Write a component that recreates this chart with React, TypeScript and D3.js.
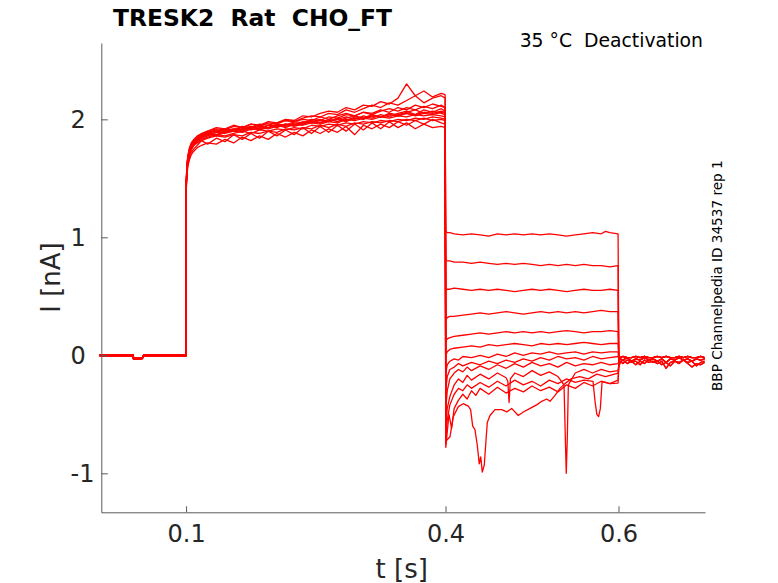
import React, { useEffect, useRef } from 'react';
import * as d3 from 'd3';

type Pt = [number, number];

// 0 ~ 0.1 s 유지 구간 (두 가지 변형)
const baseT = [0, 0.039, 0.0392, 0.044, 0.0495, 0.0505, 0.0515, 0.0999];
const baseA = [0.004, 0.004, -0.022, -0.026, -0.02, -0.004, 0.004, 0.004];
const baseB = [-0.005, -0.005, -0.03, -0.033, -0.027, -0.011, -0.005, -0.005];

// 0.1 ~ 0.4 s 활성화 구간
const actT = [
  0.1, 0.1002, 0.101, 0.102, 0.104, 0.106, 0.109, 0.113, 0.118, 0.125,
  0.135, 0.145, 0.155, 0.165, 0.175, 0.185, 0.195, 0.205, 0.215, 0.225,
  0.235, 0.245, 0.255, 0.265, 0.275, 0.285, 0.295, 0.305, 0.315, 0.325,
  0.335, 0.345, 0.355, 0.365, 0.375, 0.385, 0.395, 0.3995,
];
const act: number[][] = [
  [0, 1.47, 1.6, 1.68, 1.75, 1.79, 1.82, 1.85, 1.88, 1.9,
    1.92, 1.91, 1.94, 1.93, 1.96, 1.95, 1.98, 1.97, 2.0, 1.99,
    2.03, 2.02, 2.05, 2.07, 2.06, 2.1, 2.08, 2.12, 2.11, 2.15,
    2.13, 2.18, 2.3, 2.2, 2.24, 2.19, 2.22, 2.21],
  [0, 1.43, 1.57, 1.66, 1.74, 1.78, 1.81, 1.84, 1.86, 1.89,
    1.9, 1.92, 1.91, 1.94, 1.93, 1.96, 1.95, 1.97, 1.99, 1.98,
    2.01, 2.03, 2.02, 2.05, 2.04, 2.08, 2.06, 2.09, 2.12, 2.1,
    2.14, 2.12, 2.16, 2.2, 2.14, 2.18, 2.2, 2.18],
  [0, 1.46, 1.59, 1.67, 1.74, 1.78, 1.8, 1.83, 1.86, 1.88,
    1.87, 1.9, 1.92, 1.9, 1.93, 1.95, 1.93, 1.96, 1.95, 1.98,
    1.97, 2.0, 1.99, 2.02, 2.01, 2.04, 2.03, 2.06, 2.05, 2.08,
    2.06, 2.1, 2.08, 2.12, 2.1, 2.13, 2.11, 2.1],
  [0, 1.44, 1.57, 1.65, 1.72, 1.76, 1.79, 1.82, 1.84, 1.86,
    1.89, 1.88, 1.9, 1.92, 1.91, 1.93, 1.92, 1.94, 1.96, 1.94,
    1.96, 1.98, 1.97, 1.99, 2.0, 1.98, 2.01, 2.0, 2.03, 2.02,
    2.04, 2.03, 2.05, 2.04, 2.06, 2.05, 2.07, 2.06],
  [0, 1.45, 1.58, 1.66, 1.73, 1.77, 1.8, 1.82, 1.85, 1.87,
    1.86, 1.89, 1.9, 1.89, 1.92, 1.91, 1.93, 1.95, 1.93, 1.96,
    1.95, 1.97, 1.96, 1.98, 1.97, 2.0, 1.99, 2.01, 2.0, 2.02,
    2.01, 2.03, 2.02, 2.04, 2.03, 2.04, 2.03, 2.02],
  [0, 1.42, 1.55, 1.63, 1.7, 1.74, 1.78, 1.81, 1.83, 1.85,
    1.87, 1.86, 1.88, 1.9, 1.88, 1.91, 1.9, 1.92, 1.91, 1.93,
    1.92, 1.95, 1.94, 1.96, 1.95, 1.97, 1.96, 1.98, 1.97, 1.99,
    1.98, 2.0, 1.99, 2.01, 2.0, 2.02, 2.01, 2.0],
  [0, 1.4, 1.52, 1.6, 1.66, 1.7, 1.73, 1.76, 1.78, 1.8,
    1.79, 1.83, 1.8, 1.85, 1.82, 1.86, 1.83, 1.88, 1.85, 1.89,
    1.86, 1.91, 1.88, 1.92, 1.89, 1.94, 1.87, 1.95, 1.92, 1.96,
    1.93, 1.98, 1.95, 1.99, 1.96, 2.0, 1.97, 1.96],
  [0, 1.41, 1.53, 1.61, 1.68, 1.72, 1.75, 1.78, 1.82, 1.79,
    1.84, 1.81, 1.87, 1.83, 1.88, 1.84, 1.9, 1.86, 1.91, 1.87,
    1.93, 1.88, 1.94, 1.89, 1.95, 1.9, 1.96, 1.91, 1.97, 1.92,
    1.98, 1.93, 1.97, 1.92, 1.96, 1.93, 1.94, 1.93],
  [0, 1.48, 1.61, 1.69, 1.76, 1.8, 1.83, 1.86, 1.88, 1.9,
    1.93, 1.92, 1.95, 1.93, 1.96, 1.94, 1.97, 1.96, 1.99, 1.98,
    2.0, 1.99, 2.02, 2.0, 2.03, 2.05, 2.03, 2.06, 2.04, 2.07,
    2.09, 2.07, 2.1, 2.08, 2.11, 2.09, 2.12, 2.1],
  [0, 1.45, 1.59, 1.67, 1.74, 1.78, 1.81, 1.84, 1.86, 1.88,
    1.9, 1.89, 1.91, 1.93, 1.92, 1.94, 1.93, 1.95, 1.94, 1.97,
    1.96, 1.98, 2.0, 1.98, 2.01, 1.99, 2.02, 2.01, 2.03, 2.02,
    2.04, 2.03, 2.05, 2.03, 2.05, 2.04, 2.06, 2.05],
  [0, 1.43, 1.56, 1.64, 1.71, 1.75, 1.78, 1.8, 1.82, 1.84,
    1.86, 1.85, 1.87, 1.86, 1.89, 1.88, 1.9, 1.89, 1.92, 1.91,
    1.93, 1.92, 1.95, 1.93, 1.96, 1.94, 1.97, 1.96, 1.98, 1.97,
    1.99, 1.98, 2.0, 1.99, 2.01, 1.99, 2.0, 1.99],
  [0, 1.46, 1.6, 1.68, 1.75, 1.79, 1.82, 1.85, 1.87, 1.89,
    1.91, 1.9, 1.92, 1.91, 1.94, 1.92, 1.95, 1.94, 1.96, 1.95,
    1.98, 1.97, 1.99, 1.98, 2.0, 2.02, 2.0, 2.03, 2.01, 2.04,
    2.02, 2.05, 2.07, 2.04, 2.08, 2.06, 2.09, 2.07],
  [0, 1.44, 1.58, 1.66, 1.73, 1.77, 1.8, 1.83, 1.85, 1.87,
    1.89, 1.91, 1.9, 1.92, 1.94, 1.92, 1.95, 1.93, 1.96, 1.95,
    1.97, 1.99, 1.97, 2.0, 1.98, 2.01, 2.03, 2.01, 2.04, 2.02,
    2.05, 2.04, 2.06, 2.08, 2.05, 2.07, 2.05, 2.04],
];

// 0.4 ~ 0.6 s 꼬리 전류 (스윕마다 [t, I])
const tails: Pt[][] = [
  [[0.4003, 1.05], [0.402, 1.04], [0.405, 1.04], [0.41, 1.03], [0.42, 1.02], [0.43, 1.03], [0.44, 1.02], [0.45, 1.01],
    [0.46, 1.03], [0.47, 1.02], [0.48, 1.03], [0.49, 1.02], [0.5, 1.03], [0.51, 1.02], [0.52, 1.03], [0.53, 1.02],
    [0.54, 1.01], [0.55, 1.02], [0.56, 1.03], [0.57, 1.04], [0.58, 1.03], [0.585, 1.05], [0.59, 1.04], [0.5995, 1.03]],
  [[0.4003, 0.81], [0.402, 0.8], [0.405, 0.8], [0.41, 0.79], [0.42, 0.79], [0.43, 0.78], [0.44, 0.79], [0.45, 0.78],
    [0.46, 0.77], [0.47, 0.78], [0.48, 0.77], [0.49, 0.78], [0.5, 0.77], [0.51, 0.76], [0.52, 0.77], [0.53, 0.76],
    [0.54, 0.77], [0.55, 0.76], [0.56, 0.77], [0.57, 0.76], [0.58, 0.76], [0.59, 0.75], [0.5995, 0.76]],
  [[0.4003, 0.55], [0.402, 0.56], [0.405, 0.56], [0.41, 0.57], [0.42, 0.56], [0.43, 0.55], [0.44, 0.56], [0.45, 0.55],
    [0.46, 0.56], [0.47, 0.55], [0.48, 0.54], [0.49, 0.55], [0.5, 0.56], [0.51, 0.55], [0.52, 0.56], [0.53, 0.55],
    [0.54, 0.54], [0.55, 0.55], [0.56, 0.56], [0.57, 0.55], [0.58, 0.55], [0.59, 0.56], [0.5995, 0.55]],
  [[0.4003, 0.3], [0.402, 0.32], [0.405, 0.33], [0.41, 0.33], [0.42, 0.34], [0.43, 0.35], [0.44, 0.36], [0.45, 0.35],
    [0.46, 0.36], [0.47, 0.37], [0.48, 0.36], [0.49, 0.35], [0.5, 0.36], [0.51, 0.37], [0.52, 0.36], [0.53, 0.37],
    [0.54, 0.36], [0.55, 0.37], [0.56, 0.36], [0.57, 0.37], [0.58, 0.38], [0.59, 0.37], [0.5995, 0.37]],
  [[0.4003, 0.12], [0.402, 0.14], [0.405, 0.15], [0.41, 0.16], [0.42, 0.17], [0.43, 0.18], [0.44, 0.19], [0.45, 0.18],
    [0.46, 0.19], [0.47, 0.2], [0.48, 0.19], [0.49, 0.2], [0.5, 0.19], [0.51, 0.2], [0.52, 0.19], [0.53, 0.2],
    [0.54, 0.21], [0.55, 0.2], [0.56, 0.19], [0.57, 0.2], [0.58, 0.2], [0.59, 0.21], [0.5995, 0.2]],
  [[0.4003, 0.0], [0.402, 0.03], [0.405, 0.05], [0.41, 0.06], [0.42, 0.07], [0.43, 0.08], [0.44, 0.07], [0.45, 0.09],
    [0.46, 0.08], [0.47, 0.09], [0.48, 0.1], [0.49, 0.09], [0.5, 0.08], [0.51, 0.1], [0.52, 0.09], [0.53, 0.1],
    [0.54, 0.09], [0.55, 0.1], [0.56, 0.11], [0.57, 0.1], [0.58, 0.09], [0.59, 0.1], [0.5995, 0.1]],
  [[0.4003, -0.15], [0.402, -0.08], [0.405, -0.05], [0.41, -0.03], [0.415, -0.04], [0.42, -0.01], [0.43, -0.02],
    [0.44, 0.0], [0.45, -0.02], [0.46, 0.01], [0.47, -0.01], [0.48, 0.02], [0.49, 0.0], [0.5, 0.02], [0.51, 0.01],
    [0.52, 0.03], [0.53, 0.01], [0.54, 0.02], [0.55, 0.03], [0.56, 0.01], [0.57, 0.03], [0.58, 0.02], [0.59, 0.03], [0.5995, 0.03]],
  [[0.4003, -0.3], [0.402, -0.18], [0.405, -0.12], [0.41, -0.1], [0.415, -0.07], [0.42, -0.09], [0.43, -0.06],
    [0.44, -0.08], [0.45, -0.05], [0.46, -0.07], [0.47, -0.04], [0.48, -0.06], [0.49, -0.03], [0.5, -0.05], [0.51, -0.02],
    [0.52, -0.04], [0.53, -0.01], [0.54, -0.03], [0.55, -0.02], [0.56, -0.04], [0.57, -0.01], [0.58, -0.03], [0.59, -0.02], [0.5995, -0.01]],
  [[0.4003, -0.45], [0.402, -0.3], [0.405, -0.2], [0.41, -0.15], [0.415, -0.12], [0.42, -0.14], [0.425, -0.1], [0.43, -0.13],
    [0.44, -0.09], [0.45, -0.12], [0.46, -0.08], [0.47, -0.11], [0.48, -0.07], [0.49, -0.1], [0.5, -0.06], [0.51, -0.09],
    [0.52, -0.07], [0.53, -0.1], [0.54, -0.06], [0.55, -0.09], [0.56, -0.07], [0.57, -0.08], [0.58, -0.06], [0.59, -0.08], [0.5995, -0.07]],
  [[0.4003, -0.6], [0.402, -0.45], [0.405, -0.35], [0.41, -0.25], [0.415, -0.2], [0.42, -0.23], [0.425, -0.17], [0.43, -0.21],
    [0.44, -0.16], [0.45, -0.2], [0.46, -0.15], [0.47, -0.19], [0.472, -0.22], [0.4735, -0.4], [0.475, -0.2], [0.48, -0.15],
    [0.49, -0.18], [0.5, -0.13], [0.51, -0.17], [0.52, -0.14], [0.53, -0.18], [0.537, -0.25], [0.5385, -0.7], [0.5396, -1.0],
    [0.5408, -0.7], [0.542, -0.25], [0.55, -0.15], [0.56, -0.12], [0.57, -0.15], [0.58, -0.12], [0.59, -0.14], [0.5995, -0.13]],
  [[0.4003, -0.7], [0.402, -0.55], [0.405, -0.42], [0.41, -0.33], [0.415, -0.28], [0.42, -0.3], [0.425, -0.25], [0.43, -0.28],
    [0.44, -0.23], [0.45, -0.27], [0.46, -0.22], [0.47, -0.26], [0.48, -0.21], [0.49, -0.25], [0.5, -0.22], [0.51, -0.26],
    [0.52, -0.21], [0.53, -0.24], [0.54, -0.2], [0.55, -0.23], [0.56, -0.21], [0.5705, -0.22], [0.573, -0.4], [0.575, -0.5],
    [0.577, -0.52], [0.579, -0.45], [0.581, -0.22], [0.59, -0.24], [0.5995, -0.235]],
  [[0.4003, -0.78], [0.402, -0.65], [0.404, -0.5], [0.407, -0.62], [0.41, -0.45], [0.415, -0.38], [0.42, -0.33], [0.425, -0.37],
    [0.43, -0.3], [0.435, -0.34], [0.44, -0.28], [0.45, -0.33], [0.46, -0.27], [0.47, -0.32], [0.48, -0.28], [0.49, -0.31],
    [0.5, -0.26], [0.51, -0.3], [0.52, -0.27], [0.53, -0.31], [0.54, -0.25], [0.55, -0.28], [0.56, -0.23], [0.57, -0.26],
    [0.58, -0.22], [0.59, -0.24], [0.5995, -0.21]],
  [[0.4003, -0.75], [0.4013, -0.72], [0.4052, -0.69], [0.409, -0.52], [0.4148, -0.435], [0.4205, -0.41], [0.4263, -0.43],
    [0.429, -0.46], [0.4314, -0.6], [0.434, -0.63], [0.4367, -0.76], [0.439, -0.92], [0.4407, -0.86], [0.4425, -0.99],
    [0.4448, -0.93], [0.4468, -0.72], [0.4483, -0.57], [0.4514, -0.51], [0.4572, -0.46], [0.465, -0.46], [0.4707, -0.48],
    [0.4765, -0.45], [0.4841, -0.51], [0.4899, -0.48], [0.4977, -0.45], [0.5054, -0.42], [0.5112, -0.39], [0.517, -0.37],
    [0.5208, -0.39], [0.5266, -0.34], [0.5323, -0.28], [0.538, -0.24], [0.545, -0.2], [0.555, -0.18], [0.565, -0.2],
    [0.575, -0.16], [0.585, -0.18], [0.5995, -0.15]],
];

// 0.6 ~ 0.7 s 복귀 구간
const postT = [
  0.6003, 0.602, 0.605, 0.61, 0.615, 0.62, 0.625, 0.63, 0.635, 0.64,
  0.645, 0.65, 0.655, 0.66, 0.665, 0.67, 0.675, 0.68, 0.685, 0.69,
  0.695, 0.6995,
];
const posts: number[][] = [
  [-0.01, -0.02, -0.01, -0.02, -0.02, -0.01, -0.02, -0.01, -0.02, -0.02,
    -0.01, -0.02, -0.01, -0.02, -0.02, -0.01, -0.02, -0.01, -0.02, -0.02, -0.01, -0.02],
  [-0.05, -0.03, -0.04, -0.02, -0.05, -0.03, -0.04, -0.02, -0.04, -0.03,
    -0.05, -0.03, -0.06, -0.03, -0.04, -0.02, -0.04, -0.03, -0.05, -0.03, -0.04, -0.03],
  [-0.08, -0.05, -0.07, -0.04, -0.06, -0.05, -0.08, -0.04, -0.06, -0.05,
    -0.07, -0.05, -0.11, -0.06, -0.05, -0.07, -0.04, -0.06, -0.05, -0.09, -0.06, -0.05],
  [-0.1, -0.06, -0.04, -0.07, -0.05, -0.08, -0.05, -0.07, -0.04, -0.06,
    -0.05, -0.08, -0.06, -0.09, -0.05, -0.06, -0.04, -0.07, -0.1, -0.07, -0.08, -0.06],
];
const postOf = [0, 1, 0, 1, 0, 0, 1, 0, 1, 2, 3, 2, 3];

const xTicks = [0.1, 0.4, 0.6];
const yTicks = [-1, 0, 1, 2];

const W = 778;
const H = 583;
const FONT = 'DejaVu Sans, sans-serif';

const App: React.FC = () => {
  const svgRef = useRef<SVGSVGElement | null>(null);

  useEffect(() => {
    if (!svgRef.current) return;
    const svg = d3.select(svgRef.current);
    svg.selectAll('*').remove();

    const left = 101.3, right = 705, top = 43, bottom = 512.3;

    const x = d3.scaleLinear().domain([0.002, 0.7]).range([left, right]);
    const y = d3.scaleLinear().domain([-1.3305, 2.647]).range([bottom, top]);

    const sweeps: Pt[][] = act.map((a, k) => {
      const bI = k % 2 === 0 ? baseA : baseB;
      const pts: Pt[] = baseT.map((t, j) => [t, bI[j]] as Pt);
      actT.forEach((t, j) => pts.push([t, a[j]]));
      tails[k].forEach(p => pts.push(p));
      const pv = posts[postOf[k]];
      postT.forEach((t, j) => pts.push([t, pv[j]]));
      return pts;
    });

    const line = d3.line<Pt>()
      .x(d => x(d[0]))
      .y(d => y(d[1]));

    svg.append('g')
      .selectAll('path')
      .data(sweeps)
      .join('path')
      .attr('d', d => line(d) || '')
      .attr('fill', 'none')
      .attr('stroke', '#ff0000')
      .attr('stroke-width', 1.3)
      .attr('stroke-linejoin', 'round');

    // 축
    const gx = svg.append('g')
      .attr('transform', `translate(0,${bottom})`)
      .call(d3.axisBottom(x).tickValues(xTicks).tickSizeInner(-6).tickSizeOuter(0).tickFormat(d => String(d)));
    gx.select('.domain').attr('stroke', '#5a5a5a');
    gx.selectAll('.tick line').attr('stroke', '#5a5a5a');
    gx.selectAll('.tick text')
      .attr('y', 30).attr('dy', null)
      .attr('fill', '#262626')
      .style('font-family', FONT).style('font-size', '24px');

    const gy = svg.append('g')
      .attr('transform', `translate(${left},0)`)
      .call(d3.axisLeft(y).tickValues(yTicks).tickSizeInner(-6.5).tickSizeOuter(0).tickFormat(d => String(d)));
    gy.select('.domain').attr('stroke', '#5a5a5a');
    gy.selectAll('.tick line').attr('stroke', '#5a5a5a');
    gy.selectAll('.tick text')
      .attr('x', -30.8).attr('dy', null).attr('y', 8.5)
      .attr('text-anchor', 'start')
      .attr('fill', '#262626')
      .style('font-family', FONT).style('font-size', '24px');
    svg.selectAll('.domain').attr('fill', 'none');

    // 라벨
    svg.append('text')
      .attr('x', 401.7).attr('y', 577.5)
      .attr('text-anchor', 'middle')
      .attr('fill', '#262626')
      .style('font-family', FONT).style('font-size', '26px')
      .text('t [s]');

    svg.append('text')
      .attr('transform', 'translate(60,277.5) rotate(-90)')
      .attr('text-anchor', 'middle')
      .attr('fill', '#262626')
      .style('font-family', FONT).style('font-size', '26px')
      .text('I [nA]');

    svg.append('text')
      .attr('x', 113).attr('y', 26)
      .attr('fill', '#000')
      .style('font-family', FONT).style('font-size', '23.4px').style('font-weight', 'bold')
      .style('white-space', 'pre')
      .text('TRESK2  Rat  CHO_FT');

    svg.append('text')
      .attr('x', 703).attr('y', 47)
      .attr('text-anchor', 'end')
      .attr('fill', '#000')
      .style('font-family', FONT).style('font-size', '18.8px')
      .style('white-space', 'pre')
      .text('35 °C  Deactivation');

    svg.append('text')
      .attr('transform', 'translate(722,391) rotate(-90)')
      .attr('fill', '#000')
      .style('font-family', FONT).style('font-size', '13.6px')
      .text('BBP Channelpedia ID 34537 rep 1');
  }, []);

  return (
    <svg
      ref={svgRef}
      width={W}
      height={H}
      style={{ position: 'absolute', left: 0, top: 0, background: '#fff' }}
    />
  );
};

export default App;
